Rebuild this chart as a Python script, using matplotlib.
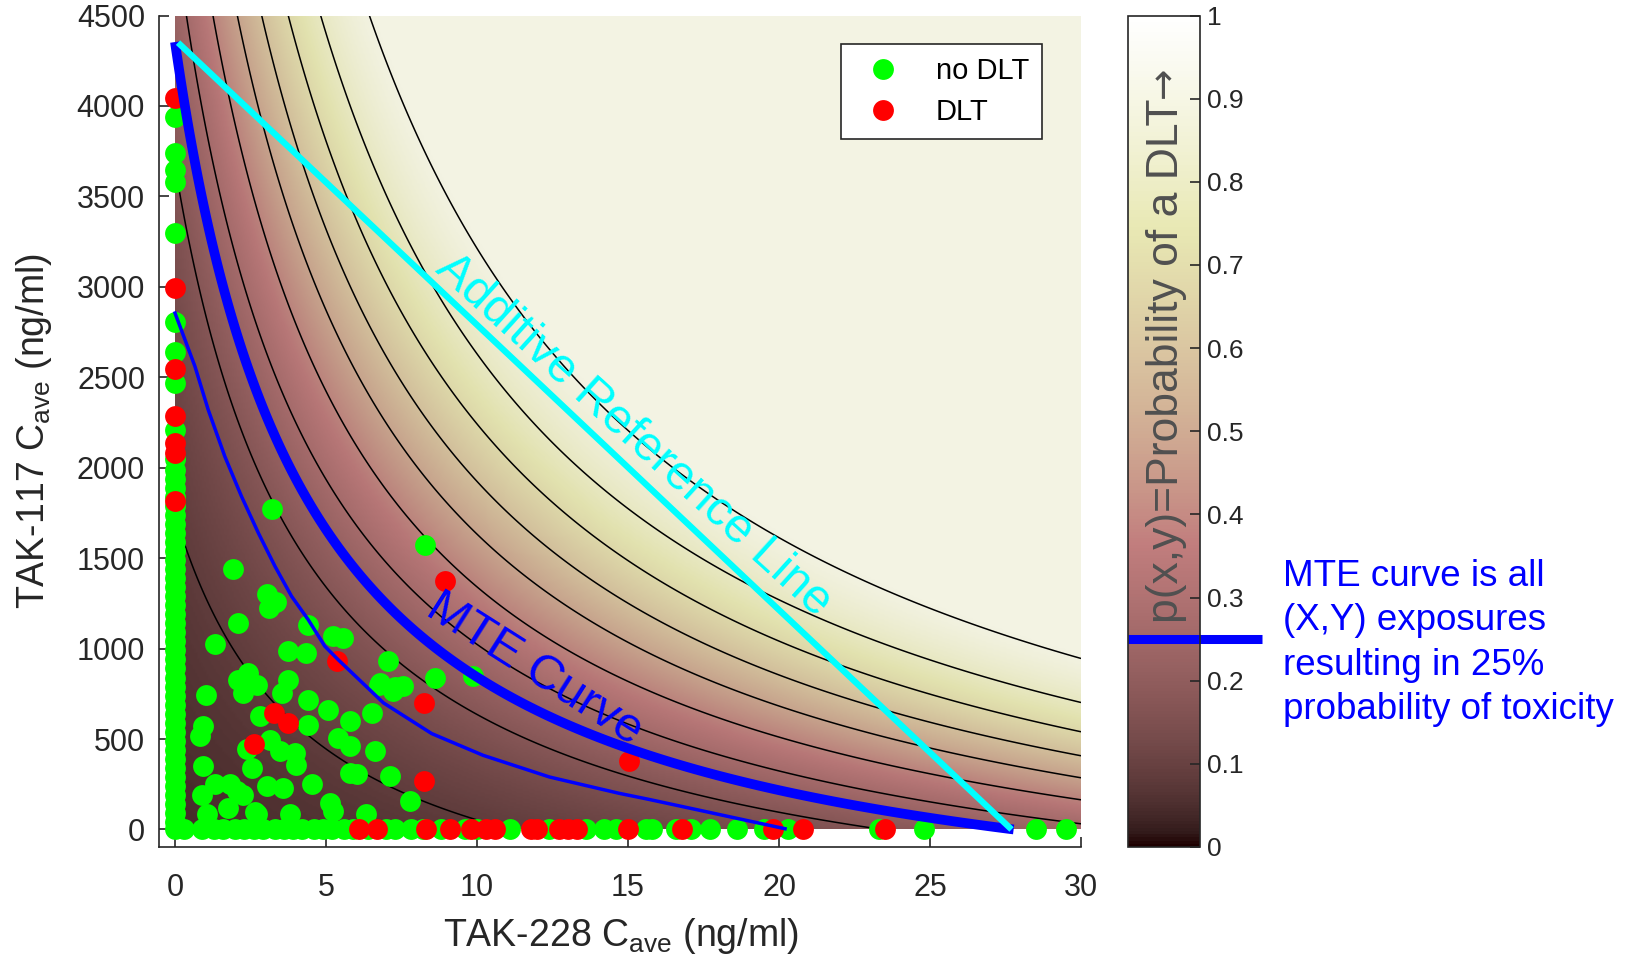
import numpy as np
import matplotlib
matplotlib.use("Agg")
import matplotlib.pyplot as plt
from matplotlib.lines import Line2D
import matplotlib.transforms as mtransforms
import matplotlib.cm as cm
from matplotlib.colors import Normalize

plt.rcParams['font.family'] = ['Liberation Sans', 'DejaVu Sans']
plt.rcParams['mathtext.fontset'] = 'custom'
plt.rcParams['mathtext.rm'] = 'Liberation Sans'
plt.rcParams['mathtext.it'] = 'Liberation Sans:italic'

# ---------------- data ----------------
# fitted logistic toxicity surface  p = 1/(1+exp(-(b0 + bx*x + by*y + bxy*x*y)))
logit_intercept = -2.93
coef_x = 0.06595
coef_y = 4.207e-4
coef_xy = 9.70e-5
contour_levels = [0.1, 0.2, 0.3, 0.4, 0.5, 0.6, 0.7, 0.8, 0.9]
mte_level = 0.25
x_range = [0, 30]
y_range = [0, 4500]
shade_max = 0.91          # the shaded surface saturates at this probability in the figure
shade_dark = [0.92, 0.07]  # shading brightness = a + b*p

# lower (thin blue) curve
lower_x = [0.0, 0.66, 1.10, 1.65, 2.2, 2.76, 3.31, 3.86, 4.41, 4.96, 5.4, 6.9, 8.5, 10.2,
           12.4, 14.7, 15.7, 17.26, 20.2]
lower_y = [2855, 2560, 2320, 2062, 1842, 1639, 1455, 1289, 1160, 1013, 939, 700, 530, 410,
           290, 200, 166, 110, 4]

# additive reference line end points
additive_x = [0.1, 27.7]
additive_y = [4350, 0]

# no-DLT subjects (green)
green_col_y = [0, 40, 90, 140, 190, 240, 290, 340, 390, 440, 490, 540, 590, 640, 690, 740,
               790, 840, 890, 940, 990, 1040, 1090, 1140, 1190, 1240, 1290, 1340, 1390, 1440,
               1490, 1540, 1590, 1640, 1690, 1740, 1790, 1840, 1890, 1940, 1989, 2050, 2210,
               2468, 2642, 2808, 3297, 3582, 3646, 3738, 3941]
green_row_x = [0.3, 0.9, 1.3, 1.6, 2.0, 2.3, 2.6, 2.9, 3.3, 3.6, 3.9, 4.2, 4.6, 4.9, 5.2, 5.6,
               5.9, 6.4, 7.0, 7.3, 7.8, 8.2, 8.8, 9.6, 10.0, 11.1, 12.4, 13.6, 14.2, 14.6, 15.6,
               15.8, 16.6, 17.1, 17.7, 18.6, 19.5, 20.3, 23.3, 24.8, 28.5, 29.5]
green_in_x = [3.2, 8.27, 1.93, 3.05, 3.35, 3.1, 2.07, 1.32, 4.41, 4.35, 3.75, 5.24, 5.57, 7.06,
              2.09, 2.43, 2.70, 2.26, 3.75, 3.53, 1.03, 4.41, 5.07, 4.41, 6.51, 6.78, 7.22, 7.55,
              8.6, 9.87, 2.81, 5.79, 5.4, 5.79, 6.62, 0.94, 0.83, 3.14, 2.37, 3.47, 3.97, 4.02,
              2.54, 0.92, 5.79, 6.01, 7.13, 4.52, 3.56, 0.88, 1.32, 1.82, 2.26, 2.04, 7.77, 5.13,
              5.24, 1.05, 1.76, 2.7, 3.8, 6.34, 3.03, 2.65, 7.3, 6.76]
green_in_y = [1772, 1575, 1440, 1300, 1255, 1225, 1142, 1027, 1133, 976, 985, 1068, 1059, 930,
              829, 866, 801, 755, 829, 755, 746, 718, 663, 580, 645, 811, 765, 792,
              838, 847, 626, 598, 506, 460, 433, 570, 515, 492, 446, 433, 423, 359,
              341, 350, 313, 304, 293, 253, 229, 193, 249, 249, 193, 212, 156, 147,
              101, 83, 120, 83, 83, 83, 239, 94, 790, 796]

# DLT subjects (red)
red_col_y = [4046, 2991, 2547, 2287, 2136, 2081, 1814]
red_row_x = [6.1, 6.7, 8.3, 9.1, 9.8, 10.3, 10.6, 11.8, 12.0, 12.7, 13.0, 13.3, 15.0, 16.8,
             19.8, 20.8, 23.5]
red_in_x = [8.93, 5.35, 8.24, 3.28, 3.75, 2.62, 8.24, 15.02]
red_in_y = [1375, 933, 700, 645, 589, 470, 267, 377]

cbar_ticks = [0, 0.1, 0.2, 0.3, 0.4, 0.5, 0.6, 0.7, 0.8, 0.9, 1]
cbar_ticklabels = ['0', '0.1', '0.2', '0.3', '0.4', '0.5', '0.6', '0.7', '0.8', '0.9', '1']
x_ticks = [0, 5, 10, 15, 20, 25, 30]
y_ticks = [0, 500, 1000, 1500, 2000, 2500, 3000, 3500, 4000, 4500]

# ---------------- figure ----------------
W, H = 1625, 963
fig = plt.figure(figsize=(W / 100, H / 100), dpi=100)
ax_l, ax_r, ax_t, ax_b = 159, 1081, 15.5, 847
ax = fig.add_axes([ax_l / W, 1 - ax_b / H, (ax_r - ax_l) / W, (ax_b - ax_t) / H])
cax = fig.add_axes([1128 / W, 1 - ax_b / H, 72 / W, (ax_b - ax_t) / H])

xs = np.linspace(x_range[0], x_range[1], 401)
ys = np.linspace(y_range[0], y_range[1], 401)
X, Y = np.meshgrid(xs, ys)
P = 1.0 / (1.0 + np.exp(-(logit_intercept + coef_x * X + coef_y * Y + coef_xy * X * Y)))

cmap = plt.get_cmap('pink')
norm = Normalize(0, 1)
Pc = np.minimum(P, shade_max)
rgba = cmap(norm(Pc))
rgba[..., :3] *= (shade_dark[0] + shade_dark[1] * Pc)[..., None]
ax.imshow(rgba, origin='lower', extent=[x_range[0], x_range[1], y_range[0], y_range[1]],
          aspect='auto', interpolation='bilinear', zorder=0)
ax.contour(X, Y, P, levels=contour_levels, colors='k', linewidths=1.1, zorder=1)

mk = 15
green = (0, 1, 0)
red = (1, 0, 0)
ax.plot([0] * len(green_col_y), green_col_y, 'o', color=green, ms=mk, mec='none', zorder=3, clip_on=False)
ax.plot(green_row_x, [0] * len(green_row_x), 'o', color=green, ms=mk, mec='none', zorder=3, clip_on=False)
ax.plot(green_in_x, green_in_y, 'o', color=green, ms=mk, mec='none', zorder=3)
ax.plot([0] * len(red_col_y), red_col_y, 'o', color=red, ms=mk, mec='none', zorder=4, clip_on=False)
ax.plot(red_row_x, [0] * len(red_row_x), 'o', color=red, ms=mk, mec='none', zorder=4, clip_on=False)
ax.plot(red_in_x, red_in_y, 'o', color=red, ms=mk, mec='none', zorder=4)

ax.plot(lower_x, lower_y, color='blue', lw=2.5, zorder=5)
ax.contour(X, Y, P, levels=[mte_level], colors='blue', linewidths=7, zorder=6)
ax.plot(additive_x, additive_y, color='cyan', lw=4.5, zorder=6, solid_capstyle='butt')

ax.text(15.18, 2182, 'Additive Reference Line', color='cyan', fontsize=35, rotation=-42.2,
        rotation_mode='anchor', ha='center', va='center', zorder=7)
ax.text(11.9, 884, 'MTE Curve', color='blue', fontsize=35, rotation=-32.4,
        rotation_mode='anchor', ha='center', va='center', zorder=7)

ax.set_xlim(-0.53, 30)
ax.set_ylim(-97, 4500)
ax.set_xticks(x_ticks)
ax.set_yticks(y_ticks)
for s in ['top', 'right']:
    ax.spines[s].set_visible(False)
for s in ['left', 'bottom']:
    ax.spines[s].set_color('#262626')
    ax.spines[s].set_linewidth(1.2)
ax.tick_params(axis='both', direction='in', length=7, width=1.2, colors='#262626', labelsize=22)
ax.tick_params(axis='y', pad=10)
ax.tick_params(axis='x', pad=19)

fig.text(621 / W, 1 - 946 / H, r'TAK-228 C$_{\mathregular{ave}}$ (ng/ml)', fontsize=27,
         color='#262626', ha='center', va='baseline')
fig.text(44 / W, 1 - 431 / H, r'TAK-117 C$_{\mathregular{ave}}$ (ng/ml)', fontsize=27,
         color='#262626', ha='center', va='baseline', rotation=90, rotation_mode='anchor')

handles = [Line2D([], [], ls='none', marker='o', ms=mk, mfc=green, mec='none'),
           Line2D([], [], ls='none', marker='o', ms=mk, mfc=red, mec='none')]
leg = ax.legend(handles, ['no DLT', 'DLT'], loc='upper right', bbox_to_anchor=(0.958, 0.966),
                borderaxespad=0, fontsize=21, fancybox=False, framealpha=1, edgecolor='#262626',
                handletextpad=0.8, borderpad=0.45, labelspacing=0.45)
leg.get_frame().set_linewidth(1.2)
leg.set_zorder(10)

sm = cm.ScalarMappable(norm=norm, cmap=cmap)
cb = fig.colorbar(sm, cax=cax)
cb.set_ticks(cbar_ticks)
cb.set_ticklabels(cbar_ticklabels)
cb.outline.set_edgecolor('#262626')
cb.outline.set_linewidth(1.2)
cax.tick_params(direction='in', length=7, width=1.2, colors='#262626', labelsize=19, pad=5)
cax.text(0.53, 0.585, 'p(x,y)=Probability of a DLT', transform=cax.transAxes, rotation=90,
         ha='center', va='center', fontsize=32, color='#505050')
cax.text(0.50, 0.920, '\u2192', transform=cax.transAxes, rotation=90, family='DejaVu Sans',
         ha='center', va='center', fontsize=27, color='#505050')

trans = mtransforms.blended_transform_factory(cax.transAxes, cax.transData)
cax.plot([0, 1.86], [mte_level, mte_level], color='blue', lw=6.5, transform=trans,
         clip_on=False, solid_capstyle='butt')
fig.text(1283 / W, 1 - 643 / H,
         'MTE curve is all\n(X,Y) exposures\nresulting in 25%\nprobability of toxicity',
         color='blue', fontsize=26.5, ha='left', va='center', linespacing=1.34)

fig.savefig('out.png', dpi=100)
